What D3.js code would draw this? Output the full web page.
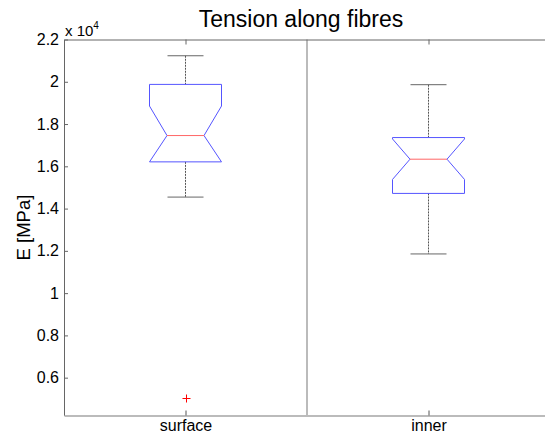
<!DOCTYPE html>
<html><head><meta charset="utf-8">
<script src="https://cdn.jsdelivr.net/npm/d3@7"></script>
<style>body{margin:0;background:#fff}svg{display:block;font-family:"Liberation Sans",Arial,sans-serif}</style>
</head><body><svg id="c" width="545" height="438"></svg>
<script>
const categories = ["surface", "inner"];
const whiskerLow  = [14544, 11854];
const q1          = [16210, 14718];
const notchLow    = [16058, 15379];
const median      = [17455, 16337];
const notchHigh   = [18852, 17295];
const q3          = [19876, 17361];
const whiskerHigh = [21231, 19862];
const outliers    = [[5058], []];
const yTicks = [6000, 8000, 10000, 12000, 14000, 16000, 18000, 20000, 22000];
const yTickLabels = ["0.6","0.8","1","1.2","1.4","1.6","1.8","2","2.2"];

const svg = d3.select("#c");
const L = 64, T = 39.5, B = 415.5;
const x = d3.scaleLinear().domain([0.5, 2.5]).range([L, L + 486]);
const y = d3.scaleLinear().domain([4210, 22000]).range([B, T]);

// title
svg.append("text").attr("x", 301).attr("y", 27).attr("text-anchor", "middle")
  .attr("font-size", 23).attr("fill", "#000").text("Tension along fibres");

// divider
svg.append("line").attr("x1", x(1.5)).attr("x2", x(1.5)).attr("y1", T).attr("y2", B)
  .attr("stroke", "#bbb").attr("stroke-width", 2);

// axes
const yAxis = d3.axisLeft(y).tickValues(yTicks).tickFormat((d,i)=>yTickLabels[i]).tickSizeInner(-4).tickSizeOuter(0).tickPadding(5);
const gy = svg.append("g").attr("transform", `translate(${L},0)`).call(yAxis);
gy.select(".domain").attr("stroke", "#666");
gy.selectAll(".tick line").attr("stroke", "#666");
gy.selectAll("text").attr("font-size", 16).attr("fill", "#000").attr("font-family", "Liberation Sans, Arial, sans-serif");

const xAxis = d3.axisBottom(x).tickValues([1, 2]).tickFormat((d)=>categories[d-1]).tickSizeInner(-5).tickSizeOuter(0).tickPadding(4);
const gx = svg.append("g").attr("transform", `translate(0,${B})`).call(xAxis);
gx.select(".domain").attr("stroke", "#bbb").attr("stroke-width", 2);
gx.selectAll(".tick line").attr("stroke", "#555");
gx.selectAll("text").attr("font-size", 16).attr("fill", "#000").attr("font-family", "Liberation Sans, Arial, sans-serif");

const xTop = d3.axisTop(x).tickValues([1, 2]).tickFormat("").tickSizeInner(-5).tickSizeOuter(0);
const gt = svg.append("g").attr("transform", `translate(0,${T})`).call(xTop);
gt.select(".domain").attr("stroke", "#666");
gt.selectAll(".tick line").attr("stroke", "#666");

// exponent label
const ex = svg.append("text").attr("x", 65).attr("y", 36).attr("font-size", 15).attr("fill", "#000");
ex.append("tspan").text("x 10");
ex.append("tspan").attr("font-size", 10).attr("dy", -7).text("4");

// y label
svg.append("text").attr("transform", `translate(30,${(T+B)/2}) rotate(-90)`).attr("text-anchor", "middle")
  .attr("font-size", 18.5).attr("fill", "#000").text("E [MPa]");

// boxes
const halfW = 36, notchW = 18.5, capW = 18;
categories.forEach((c, i) => {
  const cx = x(i + 1);
  const g = svg.append("g");
  g.append("line").attr("x1", cx).attr("x2", cx).attr("y1", y(whiskerHigh[i])).attr("y2", y(q3[i]))
    .attr("stroke", "#555").attr("stroke-dasharray", "2,1");
  g.append("line").attr("x1", cx).attr("x2", cx).attr("y1", y(q1[i])).attr("y2", y(whiskerLow[i]))
    .attr("stroke", "#555").attr("stroke-dasharray", "2,1");
  [whiskerHigh[i], whiskerLow[i]].forEach(v => {
    g.append("line").attr("x1", cx - capW).attr("x2", cx + capW).attr("y1", y(v)).attr("y2", y(v))
      .attr("stroke", "#666");
  });
  const nh = Math.min(notchHigh[i], q3[i]), nl = Math.max(notchLow[i], q1[i]);
  const pts = [
    [cx - halfW, y(q3[i])], [cx + halfW, y(q3[i])], [cx + halfW, y(nh)],
    [cx + notchW, y(median[i])], [cx + halfW, y(nl)], [cx + halfW, y(q1[i])],
    [cx - halfW, y(q1[i])], [cx - halfW, y(nl)], [cx - notchW, y(median[i])],
    [cx - halfW, y(nh)]
  ];
  g.append("path").attr("d", d3.line()(pts) + "Z").attr("fill", "none").attr("stroke", "#55f").attr("stroke-width", 1);
  g.append("line").attr("x1", cx - notchW).attr("x2", cx + notchW).attr("y1", y(median[i])).attr("y2", y(median[i]))
    .attr("stroke", "#f66");
  outliers[i].forEach(v => {
    const py = Math.round(y(v)) + 0.5, px = Math.round(cx) + 0.5;
    g.append("path").attr("d", `M${px-4},${py}H${px+4}M${px},${py-4}V${py+4}`)
      .attr("stroke", "#ff0000").attr("stroke-width", 1).attr("fill", "none");
  });
});
</script></body></html>
